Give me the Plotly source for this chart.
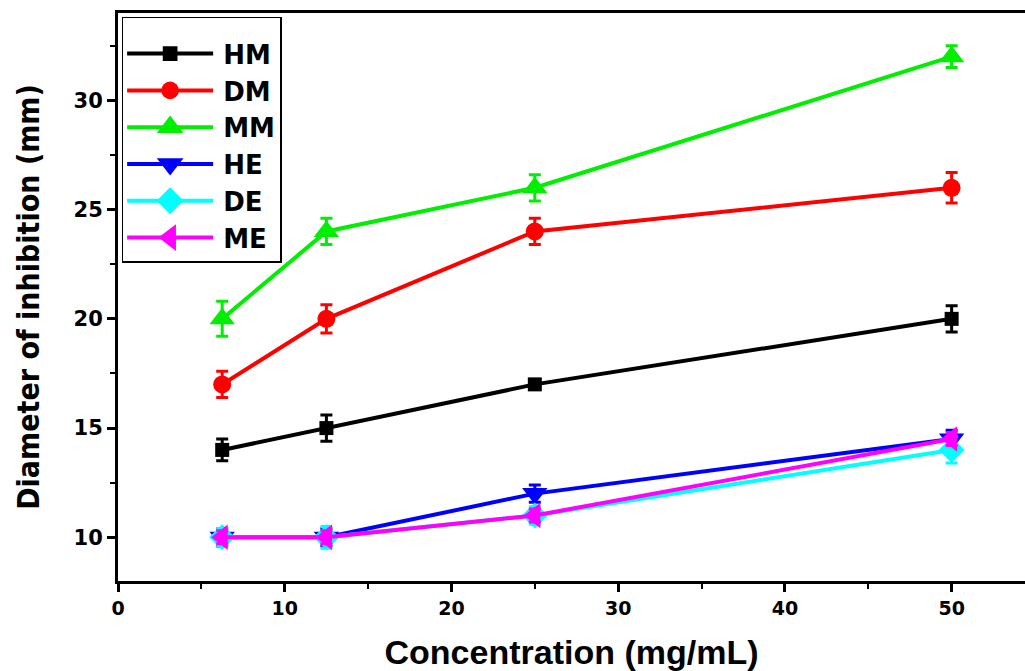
import plotly.graph_objects as go

conc = [6.25, 12.5, 25, 50]
series_names = ["HM", "DM", "MM", "HE", "DE", "ME"]
HM = [14, 15, 17, 20]
DM = [17, 20, 24, 26]
MM = [20, 24, 26, 32]
HE = [10, 10, 12, 14.5]
DE = [10, 10, 11, 14]
ME = [10, 10, 11, 14.5]
HM_err = [0.5, 0.6, 0.2, 0.6]
DM_err = [0.6, 0.65, 0.6, 0.7]
MM_err = [0.8, 0.6, 0.6, 0.5]
HE_err = [0.4, 0.4, 0.4, 0.4]
DE_err = [0.4, 0.5, 0.4, 0.6]
ME_err = [0.3, 0.3, 0.3, 0.3]

values = [HM, DM, MM, HE, DE, ME]
errors = [HM_err, DM_err, MM_err, HE_err, DE_err, ME_err]
colors = ["#000000", "#ff0000", "#00ee00", "#0000ff", "#00ffff", "#ff00ff"]
symbols = ["square", "circle", "triangle-up", "triangle-down", "diamond", "triangle-left"]
msizes = [14, 18, 22, 22, 20, 22]

fig = go.Figure()
for name, v, e, c, s, ms in zip(series_names, values, errors, colors, symbols, msizes):
    fig.add_trace(go.Scatter(
        x=conc, y=v, name=name, mode="lines+markers",
        line=dict(color=c, width=4),
        marker=dict(symbol=s, size=ms, color=c),
        error_y=dict(type="data", array=e, visible=True, color=c, thickness=3, width=6),
    ))

bold = "Liberation Sans, Arial, sans-serif"
wide = "DejaVu Sans, Liberation Sans, Arial, sans-serif"
narrow = "Liberation Sans Narrow, DejaVu Sans Condensed, Arial Narrow, sans-serif"

fig.update_layout(
    width=1025, height=671,
    margin=dict(l=118, r=0, t=13, b=90),
    plot_bgcolor="white", paper_bgcolor="white",
    showlegend=True,
    legend=dict(
        x=0.004, y=0.993, xanchor="left", yanchor="top",
        bgcolor="white", bordercolor="black", borderwidth=1.5,
        font=dict(family=wide, size=26, color="black", weight="bold"),
        title=dict(text=" ", font=dict(size=9)),
        itemwidth=90, tracegroupgap=0,
    ),
    xaxis=dict(
        range=[0, 54.4], tickvals=[0, 10, 20, 30, 40, 50],
        showgrid=False, zeroline=False,
        showline=True, linecolor="black", linewidth=3, mirror=True,
        ticks="outside", ticklen=8, tickwidth=2.5, tickcolor="black",
        minor=dict(tickvals=[5, 15, 25, 35, 45], ticks="outside", ticklen=5, tickwidth=2, tickcolor="black"),
        tickfont=dict(family=wide, size=19, color="black", weight="bold"),
        title=dict(text="Concentration (mg/mL)", standoff=23,
                   font=dict(family=bold, size=34, color="black", weight="bold")),
    ),
    yaxis=dict(
        range=[8, 34], tickvals=[10, 15, 20, 25, 30],
        showgrid=False, zeroline=False,
        showline=True, linecolor="black", linewidth=3, mirror=False,
        ticks="outside", ticklen=8, tickwidth=2.5, tickcolor="black",
        minor=dict(tickvals=[12.5, 17.5, 22.5, 27.5, 32.5], ticks="outside", ticklen=5, tickwidth=2, tickcolor="black"),
        tickfont=dict(family=wide, size=21, color="black", weight="bold"),
        title=dict(text="Diameter of inhibition (mm)", standoff=26,
                   font=dict(family=narrow, size=30, color="black", weight="bold")),
    ),
)

post = """
document.body.style.margin = '0';
document.body.style.overflow = 'hidden';
var gd = document.getElementById('{plot_id}');
var scales = [1.05, 1.1, 1.45, 1.45, 1.3, 1.45];
function widenLegend() {
  gd.querySelectorAll('.legend .traces').forEach(function (t, i) {
    var l = t.querySelector('.legendlines path');
    if (l) l.setAttribute('d', 'M4,0h86');
    t.querySelectorAll('.legendpoints path').forEach(function (p) {
      p.setAttribute('transform', 'translate(47,0) scale(' + (scales[i] || 1) + ')');
    });
  });
}
widenLegend();
setTimeout(widenLegend, 50);
gd.on('plotly_afterplot', widenLegend);
"""

fig.write_html("out.html", post_script=post, config={"displayModeBar": False})
